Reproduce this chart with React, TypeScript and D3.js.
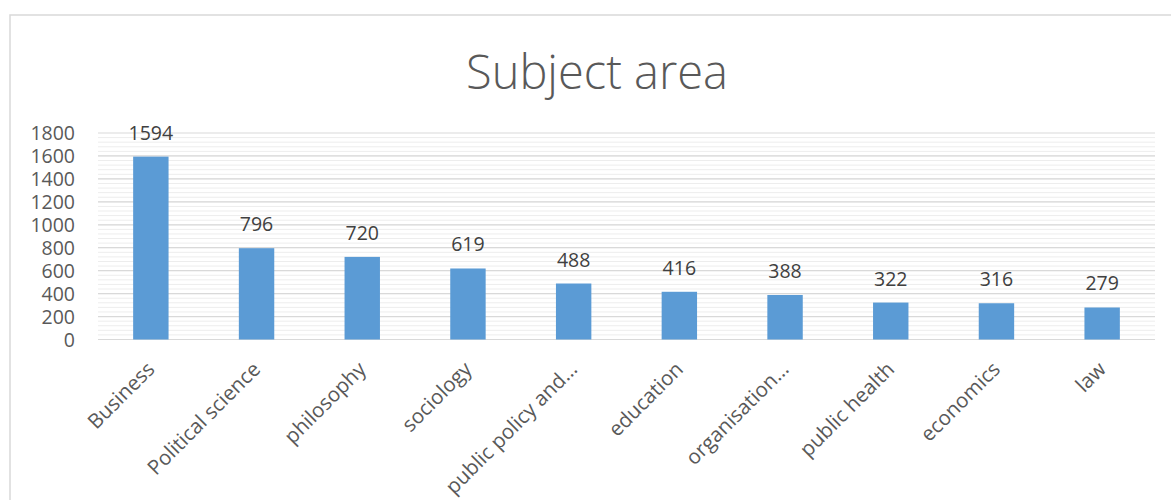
import React from "react";
import * as d3 from "d3";

const categories = [
  "Business",
  "Political science",
  "philosophy",
  "sociology",
  "public policy and…",
  "education",
  "organisation…",
  "public health",
  "economics",
  "law",
];
const counts = [1594, 796, 720, 619, 488, 416, 388, 322, 316, 279];
const yTicks = [0, 200, 400, 600, 800, 1000, 1200, 1400, 1600, 1800];
const minorTicks = d3.range(0, 1800, 40);

const W = 1171;
const H = 500;
const plot = { left: 98, right: 1155, top: 133, bottom: 339.5 };
const textColor = "#595959";
const font = "'Open Sans', 'Segoe UI', sans-serif";

export default function App() {
  const x = d3
    .scaleBand<string>()
    .domain(categories)
    .range([plot.left, plot.right])
    .padding(0);
  const y = d3.scaleLinear().domain([0, 1800]).range([plot.bottom, plot.top]);
  const barW = x.bandwidth() * 0.335;

  return (
    <div style={{ position: "fixed", left: 0, top: 0, background: "#fff" }}>
      <svg width={W} height={H} style={{ display: "block" }}>
        <rect x={0} y={0} width={W} height={H} fill="#fff" />
        {/* chart frame */}
        <rect x={10} y={15} width={W + 10} height={H} fill="none" stroke="#D9D9D9" strokeWidth={1.5} />

        <text
          x={597}
          y={89}
          textAnchor="middle"
          fontSize={47}
          fontFamily="'Open Sans', 'Liberation Sans', sans-serif"
          fontWeight={300}
          fill={textColor}
        >
          Subject area
        </text>

        {/* minor gridlines */}
        {minorTicks.map((t) => (
          <line
            key={"m" + t}
            x1={plot.left}
            x2={plot.right}
            y1={y(t)}
            y2={y(t)}
            stroke="#EDEDED"
            strokeWidth={1}
          />
        ))}
        {/* major gridlines */}
        {yTicks.map((t) => (
          <line
            key={"g" + t}
            x1={plot.left}
            x2={plot.right}
            y1={y(t)}
            y2={y(t)}
            stroke="#D9D9D9"
            strokeWidth={1.2}
          />
        ))}

        {yTicks.map((t) => (
          <text
            key={"y" + t}
            x={75}
            y={y(t)}
            dy="0.36em"
            textAnchor="end"
            fontSize={19.5}
            fontFamily={font}
            fill={textColor}
          >
            {t}
          </text>
        ))}

        {categories.map((c, i) => {
          const cx = (x(c) || 0) + x.bandwidth() / 2;
          return (
            <g key={c}>
              <rect
                x={cx - barW / 2}
                y={y(counts[i])}
                width={barW}
                height={plot.bottom - y(counts[i])}
                fill="#5B9BD5"
              />
              <text
                x={cx}
                y={y(counts[i]) - 17}
                textAnchor="middle"
                fontSize={19.5}
                fontFamily={font}
                fill="#404040"
              >
                {counts[i]}
              </text>
              <text
                transform={`translate(${cx + 5},${plot.bottom + 31}) rotate(-45)`}
                textAnchor="end"
                fontSize={20.5}
                fontFamily={font}
                fill={textColor}
              >
                {c}
              </text>
            </g>
          );
        })}
      </svg>
    </div>
  );
}
